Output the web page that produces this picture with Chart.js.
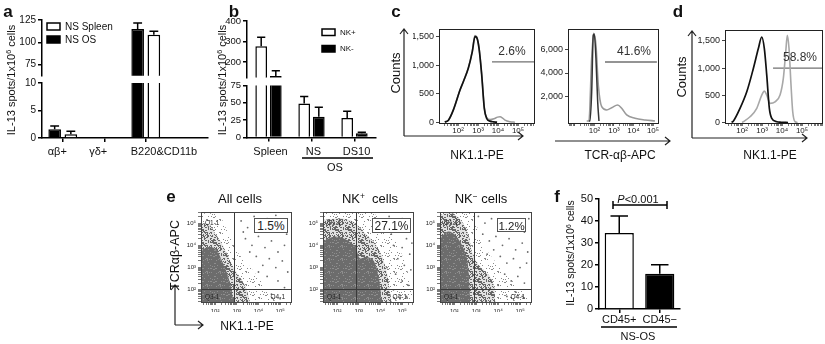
<!DOCTYPE html>
<html>
<head>
<meta charset="utf-8">
<title>IL-13 spots and NK1.1 / TCRαβ staining</title>
<script src="https://cdn.jsdelivr.net/npm/chart.js@4.4.1/dist/chart.umd.min.js"></script>
<style>
  html, body { margin: 0; padding: 0; background: #fff; }
  #fig { position: relative; width: 825px; height: 344px; overflow: hidden;
         font-family: 'Liberation Sans', Arial, sans-serif; color: #111; }
  #plots canvas { position: absolute; }
  #marks { position: absolute; left: 0; top: 0; }
  .t { position: absolute; white-space: nowrap; line-height: 1; transform: translate(-50%, -50%); }
  .rot { transform: translate(-50%, -50%) rotate(-90deg); }
  .panel { font-weight: bold; font-size: 17px; }
  .pct { position: absolute; box-sizing: border-box; border: 1px solid #555; background: #fff;
         font-size: 12px; line-height: 12px; text-align: center; padding-top: 1px; color: #222; }
  sup { font-size: 0.65em; vertical-align: 0.45em; line-height: 0; }
</style>
</head>
<body>
<div id="fig">
  <div id="plots"></div>
  <svg id="marks" width="825" height="344" fill="none" stroke="#222" stroke-width="1.2">
    <!-- c / d / e axis arrows -->
    <path d="M404 136 V29 M400 34 L404 29 L408 34 M404 136 H523 M518 132 L523 136 L518 140"/>
    <path d="M555 141 H670 M665 137 L670 141 L665 145"/>
    <path d="M692 138 V31 M688 36 L692 31 L696 36 M692 138 H807 M802 134 L807 138 L802 142"/>
    <path d="M175 325 V285 M171 290 L175 285 L179 290 M175 325 H203 M198 321 L203 325 L198 329"/>
    <!-- group underlines, P bracket -->
    <path stroke="#000" stroke-width="1.5" d="M302 158 H373 M601 327 H677 M613 205 H667 M613 201 V209 M667 201 V209"/>
  </svg>

  <div class="t panel" style="left:8px;top:11px">a</div>
  <div class="t panel" style="left:234px;top:11px">b</div>
  <div class="t panel" style="left:396px;top:11px">c</div>
  <div class="t panel" style="left:678px;top:11px">d</div>
  <div class="t panel" style="left:171px;top:196px">e</div>
  <div class="t panel" style="left:557px;top:196px">f</div>

  <div class="t rot" style="left:11px;top:80px;font-size:11px">IL-13 spots/1x10<sup>6</sup> cells</div>
  <div class="t rot" style="left:222px;top:80px;font-size:11px">IL-13 spots/1x10<sup>6</sup> cells</div>
  <div class="t" style="left:335px;top:167px;font-size:11px">OS</div>

  <div class="t rot" style="left:395px;top:73px;font-size:13px">Counts</div>
  <div class="t" style="left:477px;top:155px;font-size:12px">NK1.1-PE</div>
  <div class="t" style="left:620px;top:155px;font-size:12px">TCR-αβ-APC</div>
  <div class="t" style="left:512px;top:51px;font-size:12px;color:#333">2.6%</div>
  <div class="t" style="left:634px;top:51px;font-size:12px;color:#333">41.6%</div>
  <div class="t rot" style="left:681px;top:77px;font-size:13px">Counts</div>
  <div class="t" style="left:770px;top:155px;font-size:12px">NK1.1-PE</div>
  <div class="t" style="left:800px;top:57px;font-size:12px;color:#333">58.8%</div>

  <div class="t" style="left:240px;top:198px;font-size:13px">All cells</div>
  <div class="t" style="left:370px;top:198px;font-size:13px">NK<sup>+</sup>&nbsp; cells</div>
  <div class="t" style="left:481px;top:198px;font-size:13px">NK<sup>−</sup> cells</div>
  <div class="t rot" style="left:175px;top:255px;font-size:12.5px">TCRαβ-APC</div>
  <div class="t" style="left:247px;top:326px;font-size:12px">NK1.1-PE</div>
  <div class="pct" style="left:254px;top:218px;width:34px;height:15px">1.5%</div>
  <div class="pct" style="left:372px;top:218px;width:39px;height:15px">27.1%</div>
  <div class="pct" style="left:497px;top:218px;width:29px;height:14px;font-size:11.5px">1.2%</div>

  <div class="t" style="left:638px;top:199px;font-size:11px"><i>P</i>&lt;0.001</div>
  <div class="t rot" style="left:570px;top:253px;font-size:10.5px">IL-13 spots/1x10<sup>6</sup> cells</div>
  <div class="t" style="left:638px;top:336px;font-size:11px">NS-OS</div>
</div>

<script>
// ---- a: IL-13 spots per 1e6 sorted cells
const subsetsA = ['αβ+', 'γδ+', 'B220&CD11b'];
const nsOsA = [1.6, 0, 115];
const nsOsErrA = [0.6, 0, 6.5];
const nsSpleenA = [0.7, 0, 108.5];
const nsSpleenErrA = [0.55, 0, 4];
const aTopTicks = [75, 100, 125];
const aLowTicks = [0, 5, 10];

// ---- b
const groupsB = ['Spleen', 'NS', 'DS10'];
const nkPlusB = [277, 49, 28];
const nkPlusErrB = [44, 10, 10];
const nkMinusB = [132, 30, 6];
const nkMinusErrB = [26, 13.5, 1.5];
const bTopTicks = [200, 300, 400];
const bLowTicks = [0, 25, 50, 75];

// ---- c, d: histograms, [fluorescence, counts]
const c1Black = [[22, 0], [33, 35], [58, 212], [126, 565], [184, 712], [327, 948], [519, 1242], [708, 1507],
  [861, 1490], [1122, 1302], [1531, 830], [2065, 242], [2723, 65], [3981, 18], [5821, 5], [9000, 0]];
const c1Gray = [[22, 0], [35, 40], [60, 225], [130, 580], [190, 725], [330, 960], [520, 1255], [700, 1525],
  [850, 1505], [1120, 1315], [1530, 845], [2070, 255], [2720, 80], [4000, 45], [6300, 60], [9500, 88],
  [12600, 95], [17000, 72], [22400, 35], [40000, 6], [70000, 0]];
const c1Gate = [[5000, 1060], [631000, 1060]];
const c1Ticks = [0, 500, 1000, 1500];

const c2Black = [[52, 0], [59, 0], [72, 2440], [87, 7170], [98, 7225], [119, 5225], [146, 1610], [170, 0]];
const c2Gray = [[40, 0], [52, 0], [72, 5250], [91, 7310], [119, 6330], [157, 3000], [234, 1190], [423, 917],
  [762, 1110], [1549, 1333], [2483, 1058], [4477, 500], [11940, 225], [38900, 83], [126000, 0]];
const c2Gate = [[345, 4917], [158000, 4917]];
const c2Ticks = [2000, 4000, 6000];

const dBlack = [[30, 0], [37, 27], [79, 260], [172, 564], [367, 993], [653, 1359], [966, 1571], [1303, 1359],
  [1718, 870], [2317, 260], [3055, 77], [5433, 15], [9000, 5], [20000, 0]];
const dGray = [[100, 0], [116, 15], [251, 106], [543, 260], [966, 504], [1303, 577], [1718, 504], [2512, 352],
  [4467, 381], [7943, 504], [11610, 810], [15310, 1297], [18410, 1603], [22390, 1359], [28180, 687],
  [34280, 198], [44670, 15], [60000, 0]];
const dGate = [[3550, 1000], [1000000, 1000]];
const dTicks = [0, 500, 1000, 1500];

// ---- e: dot plots, log10 of [NK1.1-PE, TCRab-APC]; outlines of the dense / medium / sparse clouds
const eDense1 = [[1.35, 3.79], [1.76, 3.94], [2.07, 3.79], [2.30, 3.34], [2.53, 2.81], [2.69, 2.29], [2.76, 1.99], [2.84, 1.45]];
const eMid1 = [[1.35, 5.0], [1.76, 4.92], [1.99, 4.56], [2.30, 4.11], [2.61, 3.49], [2.92, 2.89], [3.23, 2.44], [3.46, 1.99], [3.61, 1.45]];
const eLight1 = [[1.35, 5.45], [2.15, 5.37], [2.61, 4.54], [3.07, 3.64], [3.61, 3.04], [4.07, 2.44], [4.53, 1.84], [4.99, 1.54], [5.5, 1.45]];
const eDots1 = [[3.2, 5.1], [3.5, 4.8], [3.8, 5.3], [4.1, 4.9], [4.4, 5.2], [4.7, 4.7], [5.0, 5.0], [5.3, 4.5], [3.4, 4.3],
  [3.7, 4.0], [4.0, 4.4], [4.3, 3.9], [4.6, 4.2], [4.9, 3.7], [5.2, 4.0], [3.9, 3.5], [4.2, 3.1], [4.5, 3.4], [4.8, 3.0],
  [5.1, 3.3], [5.35, 2.8], [4.4, 2.6], [4.9, 2.4], [5.2, 2.1], [4.6, 1.8], [5.0, 1.6], [3.6, 3.7], [4.0, 2.8], [3.3, 4.6], [4.8, 5.35]];

const eDense2 = [[1.35, 4.17], [1.83, 4.39], [2.29, 4.32], [2.67, 4.09], [2.87, 3.87], [3.05, 3.42], [3.36, 3.49], [3.66, 3.34], [3.85, 2.89], [3.98, 2.22], [4.05, 1.45]];
const eMid2 = [[1.35, 5.14], [2.13, 5.22], [2.75, 5.07], [3.21, 4.62], [3.67, 4.17], [4.05, 3.57], [4.29, 2.81], [4.44, 1.91], [4.52, 1.45]];
const eLight2 = [[1.35, 5.5], [3.52, 5.5], [4.21, 4.92], [4.9, 3.79], [5.36, 2.44], [5.5, 1.45]];
const eDots2 = [[4.4, 5.3], [4.7, 5.0], [5.0, 5.2], [5.3, 4.9], [4.5, 4.5], [4.9, 4.6], [5.2, 4.3], [4.6, 4.0], [5.0, 3.9],
  [5.35, 3.6], [4.8, 3.4], [5.1, 3.1], [5.4, 2.9], [4.7, 2.7], [5.0, 2.4], [5.3, 2.2], [4.6, 2.0], [5.2, 1.7], [4.9, 1.6],
  [4.3, 3.0], [5.45, 4.1], [4.2, 4.8]];

const eDense3 = [[1.35, 4.32], [1.73, 4.62], [2.04, 4.47], [2.35, 4.02], [2.58, 3.42], [2.65, 2.81], [2.73, 1.45]];
const eMid3 = [[1.35, 5.37], [1.89, 5.45], [2.35, 5.07], [2.65, 4.47], [2.81, 3.72], [3.11, 3.12], [3.57, 2.67], [3.8, 2.22], [3.88, 1.45]];
const eLight3 = [[1.35, 5.5], [2.82, 5.5], [3.19, 4.24], [4.11, 2.98], [5.04, 1.99], [5.5, 1.45]];
const eDots3 = [[3.1, 5.3], [3.4, 5.0], [3.7, 5.2], [4.0, 4.8], [4.3, 5.1], [4.6, 4.7], [4.9, 5.0], [5.2, 4.6], [5.4, 5.2],
  [3.3, 4.5], [3.6, 4.2], [3.9, 4.4], [4.2, 4.0], [4.5, 4.3], [4.8, 3.8], [5.1, 4.1], [5.35, 3.7], [3.8, 3.8], [4.1, 3.5],
  [4.4, 3.2], [4.7, 3.4], [5.0, 3.0], [5.3, 3.2], [4.3, 2.7], [4.6, 2.4], [4.9, 2.6], [5.2, 2.3], [4.0, 2.2], [4.8, 1.9],
  [5.1, 1.7], [4.4, 1.7], [3.5, 3.6]];
const eGateX = 780;
const eGateY = 110;

// ---- f
const groupsF = ['CD45+', 'CD45−'];
const spotsF = [34.5, 16];
const spotsErrF = [7.8, 4.1];
const fTicks = [0, 10, 20, 30, 40, 50];

Chart.defaults.font.family = "'Liberation Sans', Arial, sans-serif";
Chart.defaults.color = '#111';

const plots = document.getElementById('plots');

// canvas placed so the chart area lands on the given page box
function mount(area, yw, xh, m) {
  const [x0, y0, x1, y1] = area;
  const left = Math.floor(x0 - yw - m[0]);
  const top = Math.floor(y0 - m[1]);
  const right = Math.ceil(x1 + m[2]);
  const bottom = Math.ceil(y1 + xh + m[3]);
  const canvas = document.createElement('canvas');
  canvas.width = right - left;
  canvas.height = bottom - top;
  canvas.style.left = left + 'px';
  canvas.style.top = top + 'px';
  plots.appendChild(canvas);
  return { canvas, padding: { left: x0 - yw - left, top: y0 - top, right: right - x1, bottom: bottom - y1 - xh } };
}

function draw(area, yw, xh, m, type, data, scales, extra) {
  const { canvas, padding } = mount(area, yw, xh, m);
  return new Chart(canvas, {
    type, data,
    plugins: extra.plugins || [],
    options: Object.assign({
      responsive: false, animation: false, events: [],
      layout: { autoPadding: false, padding },
      plugins: { legend: { display: false }, tooltip: { enabled: false } },
      scales
    }, extra.options || {})
  });
}

const fixW = w => s => { s.width = w; s.paddingTop = 0; s.paddingBottom = 0; };
const fixH = h => s => { s.height = h; s.paddingLeft = 0; s.paddingRight = 0; };
const setTicks = list => s => { s.ticks = list.map(v => ({ value: v })); };

// prism-style axes for the bar panels
const prismGrid = { drawOnChartArea: false, offset: false, tickLength: 4, color: '#000', lineWidth: 1.5 };
const prismBorder = { color: '#000', width: 1.5 };
const flatTicks = { autoSkip: false, maxRotation: 0, minRotation: 0 };
function prismY(min, max, list, size, w) {
  return {
    min, max, afterBuildTicks: setTicks(list), afterFit: fixW(w),
    grid: prismGrid, border: prismBorder,
    ticks: { font: { size }, color: '#111', padding: 2 }
  };
}

// log axes of the cytometry panels: minor marks each decade, labels 10^2..10^5
const SUP = ['⁰', '¹', '²', '³', '⁴', '⁵', '⁶'];
function decadeTicks(min, max) {
  return s => {
    const t = [];
    for (let e = 0; e <= 6; e++) {
      for (let k = 1; k <= 9; k++) {
        const v = k * Math.pow(10, e);
        if (v >= min && v <= max) t.push({ value: v });
      }
    }
    s.ticks = t;
  };
}
function decadeLabel(v) {
  const e = Math.round(Math.log10(v));
  return (e >= 2 && e <= 5 && Math.abs(v - Math.pow(10, e)) < 1e-9 * v) ? '10' + SUP[e] : '';
}
function logAxis(min, max, size, pad, fit) {
  return {
    type: 'logarithmic', min, max,
    afterBuildTicks: decadeTicks(min, max), afterFit: fit,
    grid: { drawOnChartArea: false, tickLength: 3, color: '#555', lineWidth: 0.8 },
    border: { display: false },
    ticks: Object.assign({ font: { size }, color: '#222', padding: pad, callback: decadeLabel }, flatTicks)
  };
}

// speckle texture for the dot-plot clouds (a fixed, irregular pixel tile)
function speckle(bg, fg, density) {
  const n = 13;
  const c = document.createElement('canvas');
  c.width = c.height = n;
  const g = c.getContext('2d');
  if (bg) { g.fillStyle = bg; g.fillRect(0, 0, n, n); }
  g.fillStyle = fg;
  for (let y = 0; y < n; y++) {
    for (let x = 0; x < n; x++) {
      if ((x * 37 + y * 91 + x * y * 17 + x * x * 5) % 23 < density) g.fillRect(x, y, 1, 1);
    }
  }
  return g.createPattern(c, 'repeat');
}

// ---- plugins
const errorBars = capRatio => ({
  id: 'errorBars',
  afterDatasetsDraw(chart) {
    const { ctx, chartArea: a } = chart;
    ctx.save();
    ctx.beginPath();
    ctx.rect(a.left - 2, a.top - 1, a.right - a.left + 4, a.bottom - a.top + 2);
    ctx.clip();
    ctx.strokeStyle = '#000';
    ctx.lineWidth = 1.5;
    chart.data.datasets.forEach((ds, i) => {
      const meta = chart.getDatasetMeta(i);
      const ys = chart.scales[meta.yAxisID];
      meta.data.forEach((bar, j) => {
        const e = ds.errors[j];
        if (!e) return;
        const raw = ds.data[j];
        const v = raw !== null && typeof raw === 'object' ? raw.y : raw;
        const top = ys.getPixelForValue(v + e);
        const half = bar.width * capRatio / 2;
        ctx.beginPath();
        ctx.moveTo(bar.x, bar.y);
        ctx.lineTo(bar.x, top);
        ctx.moveTo(bar.x - half, top);
        ctx.lineTo(bar.x + half, top);
        ctx.stroke();
      });
    });
    ctx.restore();
  }
});

const boxLegend = o => ({
  id: 'boxLegend',
  afterDraw(chart) {
    const { ctx, chartArea: a } = chart;
    ctx.save();
    ctx.font = o.font;
    ctx.textBaseline = 'middle';
    ctx.lineWidth = 1.5;
    o.order.forEach((i, k) => {
      const ds = chart.data.datasets[i];
      const x = a.left + o.dx, y = a.top + o.dy + k * o.step;
      ctx.fillStyle = ds.backgroundColor;
      ctx.fillRect(x, y, o.w, o.h);
      ctx.strokeStyle = ds.borderColor;
      ctx.strokeRect(x, y, o.w, o.h);
      ctx.fillStyle = '#111';
      ctx.fillText(ds.label, x + o.w + o.gap, y + o.h / 2 + 0.5);
    });
    ctx.restore();
  }
});

const frame = color => ({
  id: 'frame',
  afterDraw(chart) {
    const { ctx, chartArea: a } = chart;
    ctx.save();
    ctx.strokeStyle = color;
    ctx.lineWidth = 1;
    ctx.strokeRect(Math.round(a.left) + 0.5, Math.round(a.top) + 0.5, Math.round(a.right - a.left), Math.round(a.bottom - a.top));
    ctx.restore();
  }
});

const quadrants = (qx, qy) => ({
  id: 'quadrants',
  afterDatasetsDraw(chart) {
    const { ctx, chartArea: a, scales: { x, y } } = chart;
    const px = Math.round(x.getPixelForValue(qx)) + 0.5;
    const py = Math.round(y.getPixelForValue(qy)) + 0.5;
    ctx.save();
    ctx.strokeStyle = '#3a3a3a';
    ctx.lineWidth = 1;
    ctx.beginPath();
    ctx.moveTo(px, a.top); ctx.lineTo(px, a.bottom);
    ctx.moveTo(a.left, py); ctx.lineTo(a.right, py);
    ctx.stroke();
    ctx.fillStyle = '#222';
    ctx.font = "6.5px 'Liberation Sans'";
    ctx.textBaseline = 'middle';
    ctx.textAlign = 'left';
    ctx.fillText('Q1-1', a.left + 4, a.top + 11);
    ctx.fillText('Q3-1', a.left + 4, a.bottom - 5);
    ctx.textAlign = 'right';
    ctx.fillText('Q4-1', a.right - 6, a.bottom - 5);
    ctx.restore();
  }
});

const barOpts = (cat, bar) => ({ datasets: { bar: { categoryPercentage: cat, barPercentage: bar } } });

// ---- a (broken axis: two stacked charts)
const aBars = () => [
  { label: 'NS OS', data: nsOsA.map((v, i) => ({ x: i, y: v })), errors: nsOsErrA,
    backgroundColor: '#000', borderColor: '#000', borderWidth: 1.5, clip: 0 },
  { label: 'NS Spleen', data: nsSpleenA.map((v, i) => ({ x: i, y: v })), errors: nsSpleenErrA,
    backgroundColor: '#fff', borderColor: '#000', borderWidth: 1.5, clip: 0 }
];
const aX = shown => ({
  type: 'linear', min: -0.5, max: 3.5, offset: false, display: shown,
  afterBuildTicks: setTicks([0, 1, 2]), afterFit: shown ? fixH(22) : undefined,
  grid: prismGrid, border: prismBorder,
  ticks: Object.assign({ font: { size: 11 }, color: '#111', padding: 3, align: 'start', labelOffset: -15,
    callback: v => subsetsA[v] }, flatTicks)
});
draw([42, 20, 208, 75.8], 26, 0, [6, 8, 6, 2], 'bar', { datasets: aBars() },
  { x: aX(false), y: prismY(62.5, 125, aTopTicks, 10, 26) },
  { options: barOpts(0.78, 0.78),
    plugins: [errorBars(0.7), boxLegend({ order: [1, 0], dx: 5, dy: 3, w: 13, h: 7, step: 13, gap: 5, font: "10px 'Liberation Sans'" })] });
draw([42, 83, 208, 138], 26, 22, [6, 8, 8, 4], 'bar', { datasets: aBars() },
  { x: aX(true), y: prismY(0, 10, aLowTicks, 10, 26) },
  { options: barOpts(0.78, 0.78), plugins: [errorBars(0.7)] });

// ---- b
const bBars = () => [
  { label: 'NK+', data: nkPlusB, errors: nkPlusErrB, backgroundColor: '#fff', borderColor: '#000', borderWidth: 1.5, clip: 0 },
  { label: 'NK-', data: nkMinusB, errors: nkMinusErrB, backgroundColor: '#000', borderColor: '#000', borderWidth: 1.5, clip: 0 }
];
const bX = shown => ({
  display: shown, afterFit: shown ? fixH(22) : undefined,
  grid: prismGrid, border: prismBorder,
  ticks: Object.assign({ font: { size: 11 }, color: '#111', padding: 4, labelOffset: 2 }, flatTicks)
});
draw([247, 21, 376, 77.4], 24, 0, [4, 8, 6, 2], 'bar', { labels: groupsB, datasets: bBars() },
  { x: bX(false), y: prismY(125, 400, bTopTicks, 9.5, 24) },
  { options: barOpts(0.68, 0.8),
    plugins: [errorBars(0.7), boxLegend({ order: [0, 1], dx: 75, dy: 8, w: 13, h: 6.5, step: 16.5, gap: 5, font: "8px 'Liberation Sans'" })] });
draw([247, 85.5, 376, 137.5], 24, 22, [4, 8, 8, 4], 'bar', { labels: groupsB, datasets: bBars() },
  { x: bX(true), y: prismY(0, 75, bLowTicks, 9.5, 24) },
  { options: barOpts(0.68, 0.8), plugins: [errorBars(0.7)] });

// ---- c, d histograms
function histogram(area, yw, curves, gate, xMin, xMax, yMin, yMax, yTicks) {
  const datasets = curves.map(([pts, color, width]) => ({
    data: pts.map(([x, y]) => ({ x, y })), borderColor: color, borderWidth: width,
    pointRadius: 0, cubicInterpolationMode: 'monotone', fill: false, clip: 0
  }));
  datasets.push({ data: gate.map(([x, y]) => ({ x, y })), borderColor: '#707070', borderWidth: 1.3, pointRadius: 0, fill: false });
  return draw(area, yw, 12, [4, 7, 3, 3], 'line', { datasets }, {
    x: logAxis(xMin, xMax, 8, 0, fixH(12)),
    y: {
      min: yMin, max: yMax, afterBuildTicks: setTicks(yTicks), afterFit: fixW(yw),
      grid: { drawOnChartArea: false, tickLength: 3, color: '#444' },
      border: { display: false },
      ticks: { font: { size: 9 }, color: '#222', padding: 2 }
    }
  }, { plugins: [frame('#222')] });
}
histogram([439, 29, 534, 123], 26, [[c1Black, '#111', 1.7], [c1Gray, '#9a9a9a', 1.5]], c1Gate, 11.2, 631000, -15, 1640, c1Ticks);
histogram([568, 29, 658, 123], 28, [[c2Black, '#333', 1.5], [c2Gray, '#9a9a9a', 1.6]], c2Gate, 4.4, 180000, -170, 7670, c2Ticks);
histogram([725, 30, 822, 123], 28, [[dBlack, '#111', 1.7], [dGray, '#a8a8a8', 1.6]], dGate, 14, 1000000, -9, 1700, dTicks);

// ---- e dot plots
const toXY = ([a, b]) => ({ x: Math.pow(10, a), y: Math.pow(10, b) });
const lightFill = speckle(null, '#8a8a8a', 2);
const midFill = speckle('#e2e2e2', '#676767', 10);
const denseFill = speckle('#6c6c6c', '#8e8e8e', 3);
function dotPlot(area, dense, mid, light, dots) {
  const cloud = (pts, fillStyle) => ({
    data: pts.map(toXY), fill: 'start', backgroundColor: fillStyle, borderColor: 'rgba(0,0,0,0)',
    borderWidth: 0, pointRadius: 0, tension: 0.3, clip: 0
  });
  const datasets = [
    { data: dots.map(toXY), showLine: false, pointRadius: 0.9, pointBackgroundColor: '#6a6a6a', pointBorderWidth: 0 },
    cloud(dense, denseFill), cloud(mid, midFill), cloud(light, lightFill)
  ];
  return draw(area, 14, 10, [4, 5, 4, 3], 'line', { datasets }, {
    x: logAxis(Math.pow(10, 1.35), Math.pow(10, 5.5), 6, 2.5, fixH(10)),
    y: logAxis(Math.pow(10, 1.45), Math.pow(10, 5.5), 6, 2, fixW(14))
  }, { plugins: [quadrants(eGateX, eGateY), frame('#444')] });
}
dotPlot([201, 212, 291, 302], eDense1, eMid1, eLight1, eDots1);
dotPlot([323, 212, 413, 302], eDense2, eMid2, eLight2, eDots2);
dotPlot([440, 212, 531, 302], eDense3, eMid3, eLight3, eDots3);

// ---- f
draw([599, 199, 680, 309], 24, 20, [4, 8, 6, 3], 'bar',
  { labels: groupsF, datasets: [{ data: spotsF, errors: spotsErrF, backgroundColor: ['#fff', '#000'],
    borderColor: '#000', borderWidth: 1.5, clip: 0 }] },
  { x: { afterFit: fixH(20), grid: prismGrid, border: prismBorder,
         ticks: Object.assign({ font: { size: 11 }, color: '#111', padding: 0 }, flatTicks) },
    y: prismY(0, 50, fTicks, 11, 24) },
  { options: barOpts(1, 0.72), plugins: [errorBars(0.6)] });
</script>
</body>
</html>
